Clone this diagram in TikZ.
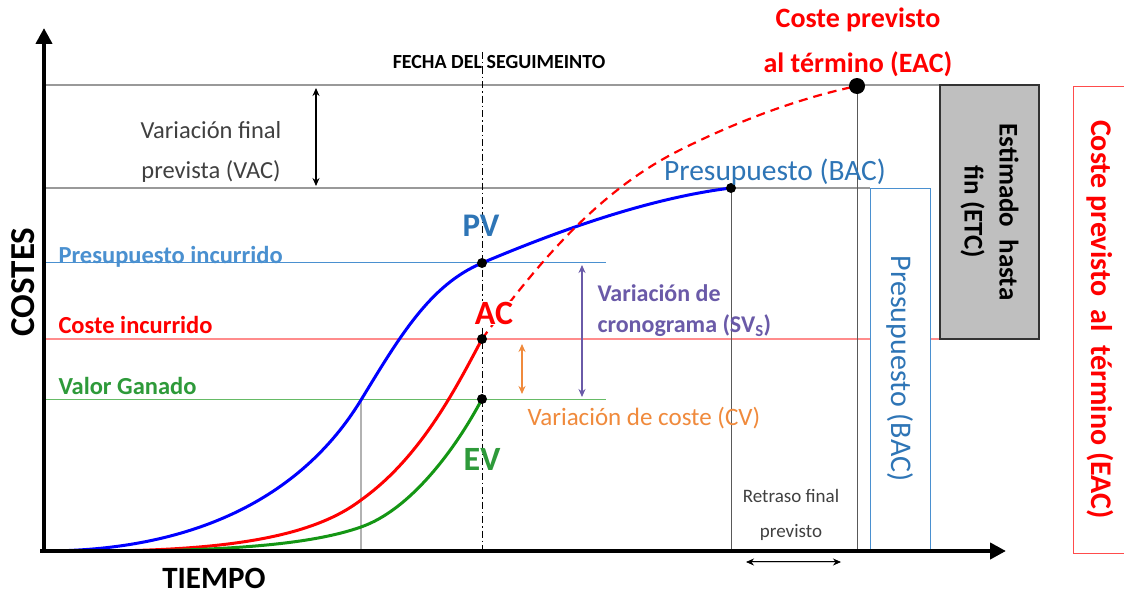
\documentclass[tikz,border=0pt]{standalone}
\usepackage{fontspec}
\setmainfont{Carlito}
\usetikzlibrary{arrows.meta}
\definecolor{pvblue}{HTML}{2E75B6}
\definecolor{lblue}{HTML}{4A90D0}
\definecolor{evgreen}{HTML}{2E9A3A}
\definecolor{cgreen}{HTML}{149614}
\definecolor{lgreen}{HTML}{66BB66}
\definecolor{purp}{HTML}{6A5AA8}
\definecolor{orng}{HTML}{F08A3C}
\definecolor{txtgray}{HTML}{404040}
\definecolor{boxgray}{HTML}{BFBFBF}
\tikzset{
  fs/.style={font=\fontsize{#1}{#1}\selectfont},
  fsb/.style={font=\fontsize{#1}{#1}\selectfont\bfseries},
  refline/.style={draw=gray!80, line width=1.3pt},
  curve/.style={line width=3pt, line cap=round},
  dot/.style={circle, fill=black, inner sep=0pt, minimum size=10pt},
  axis/.style={line width=4pt, -{Triangle[length=16pt,width=16pt]}},
  dimarrow/.style={line width=1.2pt, {Stealth[length=8pt,width=7pt]}-{Stealth[length=8pt,width=7pt]}},
  thinv/.style={draw=gray!70!black, line width=1pt},
}
\begin{document}
\begin{tikzpicture}[x=1pt,y=-1pt]
\useasboundingbox (0,0) rectangle (1124,594);
\fill[white] (0,0) rectangle (1124,594);

% key coordinates
\coordinate (O) at (44,551);
\coordinate (ytip) at (44,28);
\coordinate (xtip) at (1006,551);
\coordinate (PV) at (482,263);
\coordinate (AC) at (482,339);
\coordinate (EV) at (482,399);
\coordinate (BAC) at (731,188);
\coordinate (EAC) at (857,86);

% horizontal reference lines
\draw[refline] (44,85) -- (940,85);
\draw[refline] (44,188) -- (870,188);
\draw[draw=lblue, line width=1pt] (44,262) -- (606,262);
\draw[draw=red!45, line width=1.2pt] (44,339) -- (1000,339);
\draw[draw=lgreen, line width=1pt] (44,399) -- (606,399);

% vertical lines
\draw[draw=gray!60, line width=2pt] (361,399) -- (361,551);
\draw[thinv] (BAC) -- (731,551);
\draw[thinv] (EAC) -- (857,551);
\draw[black, line width=0.8pt, dash pattern=on 7pt off 3pt on 1.5pt off 3pt] (482,52) -- (482,551);

% boxes
\node[draw=lblue, fill=white, line width=1pt, rotate=-90, minimum width=361pt, minimum height=60pt, inner sep=0pt, text=pvblue, fs=30] (bacbox) at (900,368.5) {Presupuesto (BAC)};
\node[draw=gray!40!black, fill=boxgray, line width=1.2pt, rotate=-90, minimum width=254pt, minimum height=99pt, inner sep=0pt, align=center, fsb=27] (etcbox) at (989.5,212) {Estimado\ \ hasta\\[8pt]fin (ETC)};
\node[draw=red!70, line width=1pt, rotate=-90, minimum width=467pt, minimum height=54pt, inner sep=0pt, text=red, fsb=30] (eacbox) at (1100,319.5) {Coste previsto\ \ al\ \ término (EAC)};

% curves
\draw[curve, blue] (O) .. controls (190,551) and (300,500) .. (361,400)
   .. controls (400,336) and (430,285) .. (PV)
   .. controls (560,230) and (650,198) .. (BAC);
\draw[curve, red] (O) .. controls (200,553) and (305,543) .. (361,500)
   .. controls (420,458) and (455,390) .. (AC);
\draw[curve, cgreen] (O) .. controls (220,553) and (310,545) .. (361,527)
   .. controls (410,510) and (455,450) .. (EV);
\draw[red, line width=2.2pt, dash pattern=on 9pt off 6pt] (AC) .. controls (540,260) and (600,190) .. (680,150)
   .. controls (740,120) and (800,98) .. (EAC);

% axes
\draw[axis] (44,553) -- (ytip);
\draw[axis] (40,551) -- (xtip);

% dots
\node[dot] (pvdot) at (PV) {};
\node[dot] (acdot) at (AC) {};
\node[dot] (evdot) at (EV) {};
\node[dot] (bacdot) at (BAC) {};
\node[circle, fill=black, inner sep=0pt, minimum width=16pt, minimum height=10pt] (eacdot) at (EAC) {};

% dimension arrows
\coordinate (vacT) at (316,88);
\coordinate (vacB) at (316,186);
\draw[dimarrow, black] (vacT) -- (vacB);
\coordinate (svT) at (582,265);
\coordinate (svB) at (582,397);
\draw[dimarrow, purp, line width=1.5pt] (svT) -- (svB);
\coordinate (cvT) at (522,344);
\coordinate (cvB) at (522,394);
\draw[dimarrow, orng, line width=1.5pt] (cvT) -- (cvB);
\coordinate (retL) at (746,562);
\coordinate (retR) at (841,562);
\draw[dimarrow, black, double=gray!40, double distance=1pt, line width=0.8pt] (retL) -- (retR);

% texts
\node[fsb=20] (fecha) at (499,62) {FECHA DEL SEGUIMEINTO};
\node[fs=24.5, text=txtgray, align=center] (vac) at (211,152) {Variación final\\[15.5pt]prevista (VAC)};
\node[fsb=33, text=pvblue] (pvl) at (481,226) {PV};
\node[fsb=34, text=red, fill=white, inner sep=1pt] (acl) at (494,313) {AC};
\node[fsb=34, text=evgreen] (evl) at (482,459) {EV};
\node[fsb=24.5, text=lblue, anchor=west] (pil) at (55,257) {Presupuesto incurrido};
\node[fsb=24.5, text=red, anchor=west] (cil) at (55,325) {Coste incurrido};
\node[fsb=24.5, text=evgreen, anchor=west] (vgl) at (55,386) {Valor Ganado};
\node[fsb=24, text=purp, anchor=west, align=left] (svl) at (594,311) {Variación de\\[7pt]cronograma (SV\textsubscript{S})};
\node[fs=25, text=orng, anchor=west] (cvl) at (524,418) {Variación de coste (CV)};
\node[fs=29.5, text=pvblue] (bacl) at (775,172) {Presupuesto (BAC)};
\node[fsb=28, text=red, align=center] (eacl) at (858,42) {Coste previsto\\[17pt]al término (EAC)};
\node[fs=19, text=txtgray, align=center] (retl) at (791,515) {Retraso final\\[16pt]previsto};
\node[fsb=35, rotate=90] (costes) at (23,282) {COSTES};
\node[fsb=31] (tiempo) at (214,578) {TIEMPO};
\end{tikzpicture}
\end{document}
